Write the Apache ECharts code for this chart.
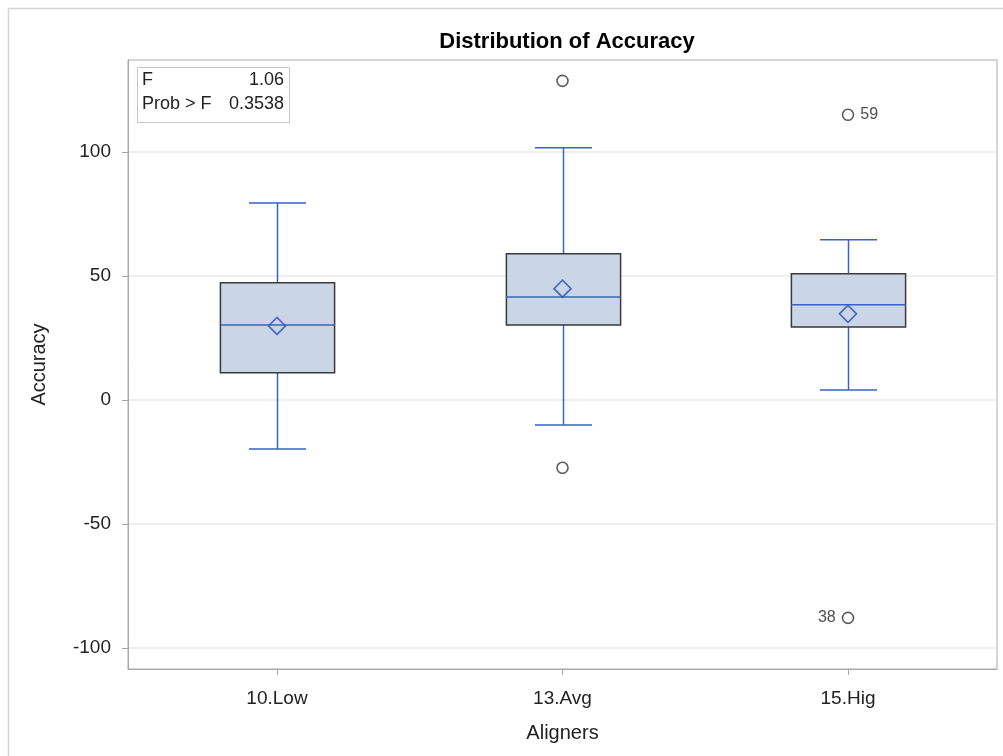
<!DOCTYPE html>
<html>
<head>
<meta charset="utf-8">
<script src="https://cdn.jsdelivr.net/npm/echarts@6/dist/echarts.min.js"></script>
<style>html,body{margin:0;padding:0;background:#fff;}#c{width:1003px;height:756px;}</style>
</head>
<body>
<div id="c"></div>
<script>
var categories = ['10.Low', '13.Avg', '15.Hig'];
var whiskerLow = [-19.8, -10.1, 4.0];
var q1 = [10.9, 30.2, 29.4];
var median = [30.2, 41.5, 38.3];
var q3 = [47.2, 58.9, 50.8];
var whiskerHigh = [79.4, 101.6, 64.5];
var means = [29.8, 44.8, 34.7];
var outlierCat = [1, 1, 2, 2];
var outlierVal = [128.6, -27.4, 114.9, -87.9];
var outlierLabel = ['', '', '59', '38'];
var yTicks = [-100, -50, 0, 50, 100];
var statNames = ['F', 'Prob > F'];
var statValues = ['1.06', '0.3538'];

var FONT = 'Liberation Sans, Arial, sans-serif';
var BLUE = '#3862C4';
var FILL = '#CAD5E5';
var EDGE = '#3a3a3a';
var AXIS = '#a8a8a8';

var catIdx = categories.map(function (c, i) { return i; });
var boxData = categories.map(function (c, i) {
  return [i, whiskerLow[i], q1[i], median[i], q3[i], whiskerHigh[i]];
});
var meanData = categories.map(function (c, i) { return [i, means[i]]; });
var outlierData = outlierVal.map(function (v, i) {
  return { value: [outlierCat[i], v], label: {
    show: outlierLabel[i] !== '', formatter: outlierLabel[i],
    position: v < 0 ? 'left' : 'right' } };
});

function renderBox(params, api) {
  var idx = api.value(0);
  var unit = api.size([1, 0])[0];
  var bw = unit * 0.40;
  var cw = unit * 0.20;
  var lo = api.coord([idx, api.value(1)]);
  var b1 = api.coord([idx, api.value(2)]);
  var md = api.coord([idx, api.value(3)]);
  var b3 = api.coord([idx, api.value(4)]);
  var hi = api.coord([idx, api.value(5)]);
  var x = Math.round(lo[0]) + 0.5;
  var lineStyle = { stroke: BLUE, lineWidth: 1.5 };
  return {
    type: 'group',
    children: [
      { type: 'line', shape: { x1: x, y1: hi[1], x2: x, y2: b3[1] }, style: lineStyle },
      { type: 'line', shape: { x1: x, y1: b1[1], x2: x, y2: lo[1] }, style: lineStyle },
      { type: 'line', shape: { x1: x - cw / 2, y1: hi[1], x2: x + cw / 2, y2: hi[1] }, style: lineStyle },
      { type: 'line', shape: { x1: x - cw / 2, y1: lo[1], x2: x + cw / 2, y2: lo[1] }, style: lineStyle },
      { type: 'rect', shape: { x: x - bw / 2, y: b3[1], width: bw, height: b1[1] - b3[1] },
        style: { fill: FILL, stroke: EDGE, lineWidth: 1.5 } },
      { type: 'line', shape: { x1: x - bw / 2, y1: md[1], x2: x + bw / 2, y2: md[1] }, style: lineStyle }
    ]
  };
}

var chart = echarts.init(document.getElementById('c'), null, { renderer: 'canvas' });
chart.setOption({
  animation: false,
  backgroundColor: '#fff',
  textStyle: { fontFamily: FONT },
  title: {
    text: 'Distribution of Accuracy', left: 562, top: 26, textAlign: 'center',
    textStyle: { fontSize: 22, fontWeight: 'bold', color: '#000', fontFamily: FONT }
  },
  grid: { left: 128, right: 6, top: 60, bottom: 87, show: true, borderColor: AXIS, borderWidth: 1 },
  xAxis: {
    type: 'value', min: -0.5219, max: 2.5219,
    name: 'Aligners', nameLocation: 'middle', nameGap: 54,
    nameTextStyle: { fontSize: 20, color: '#222', fontFamily: FONT },
    axisLine: { show: true, onZero: false, lineStyle: { color: AXIS } },
    axisTick: { show: true, length: 6, customValues: catIdx, lineStyle: { color: AXIS } },
    axisLabel: { fontSize: 19, color: '#222', margin: 20, customValues: catIdx, fontFamily: FONT,
      formatter: function (v) { return categories[Math.round(v)]; } },
    splitLine: { show: false }
  },
  yAxis: {
    type: 'value', min: -108.5, max: 137,
    name: 'Accuracy', nameLocation: 'middle', nameGap: 79, nameRotate: 90,
    nameTextStyle: { fontSize: 20, color: '#222', fontFamily: FONT },
    axisLine: { show: true, onZero: false, lineStyle: { color: AXIS } },
    axisTick: { show: true, length: 6, customValues: yTicks, lineStyle: { color: AXIS } },
    axisLabel: { fontSize: 19, color: '#222', margin: 17, customValues: yTicks, fontFamily: FONT },
    splitLine: { show: false }
  },
  series: [
    {
      type: 'line', data: [], silent: true, z: 0,
      markLine: {
        silent: true, symbol: 'none', label: { show: false }, z: 0,
        lineStyle: { color: '#e9e9e9', type: 'solid', width: 1.5 },
        data: yTicks.map(function (t) { return { yAxis: t }; })
      }
    },
    {
      type: 'custom', renderItem: renderBox, data: boxData,
      encode: { x: 0, y: [1, 2, 3, 4, 5] }, z: 5
    },
    {
      type: 'scatter', data: meanData, symbol: 'diamond', symbolSize: 17, z: 6,
      itemStyle: { color: 'rgba(0,0,0,0)', borderColor: '#2f56b8', borderWidth: 1.8 }
    },
    {
      type: 'scatter', data: outlierData, symbol: 'circle', symbolSize: 11, z: 6,
      itemStyle: { color: 'rgba(0,0,0,0)', borderColor: '#333', borderWidth: 1.6 },
      label: { fontSize: 16, color: '#222', distance: 6, fontFamily: FONT }
    }
  ],
  graphic: [
    { type: 'rect', shape: { x: 8.5, y: 8.5, width: 1020, height: 780 },
      style: { fill: 'none', stroke: '#d4d4d4', lineWidth: 1.5 }, silent: true },
    { type: 'rect', shape: { x: 137.5, y: 67.5, width: 152, height: 55 },
      style: { fill: '#fff', stroke: '#c8c8c8', lineWidth: 1 }, z: 10 },
    { type: 'text', x: 142, y: 80, z: 11, style: { text: statNames[0], fontSize: 18, fill: '#222', verticalAlign: 'middle', fontFamily: FONT } },
    { type: 'text', x: 142, y: 104, z: 11, style: { text: statNames[1], fontSize: 18, fill: '#222', verticalAlign: 'middle', fontFamily: FONT } },
    { type: 'text', x: 284, y: 80, z: 11, style: { text: statValues[0], fontSize: 18, fill: '#222', align: 'right', verticalAlign: 'middle', fontFamily: FONT } },
    { type: 'text', x: 284, y: 104, z: 11, style: { text: statValues[1], fontSize: 18, fill: '#222', align: 'right', verticalAlign: 'middle', fontFamily: FONT } }
  ]
});
</script>
</body>
</html>
